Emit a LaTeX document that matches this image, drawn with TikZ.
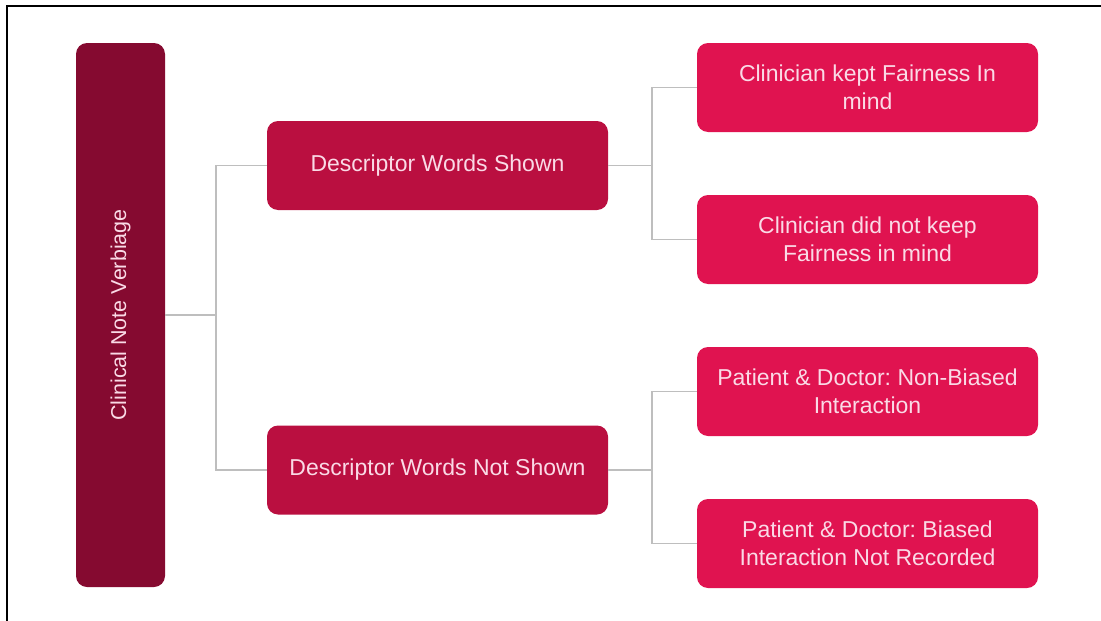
\documentclass[tikz,border=0pt]{standalone}
\usepackage{fontspec}
\setmainfont{Liberation Sans}
\frenchspacing
\definecolor{rootcol}{RGB}{133,10,48}
\definecolor{midcol}{RGB}{186,15,64}
\definecolor{leafcol}{RGB}{224,19,80}
\definecolor{txtcol}{RGB}{250,218,230}
\definecolor{linecol}{RGB}{190,190,190}
\begin{document}
\begin{tikzpicture}[x=1pt,y=-1pt,
  box/.style={rounded corners=11pt, inner sep=0pt, align=center, text=txtcol,
    font=\fontsize{23}{28}\selectfont},
  rootbox/.style={box, fill=rootcol, minimum width=544pt, minimum height=89pt, rotate=90,
    font=\fontsize{21.5}{26}\selectfont},
  midbox/.style={box, fill=midcol, minimum width=341pt, minimum height=89pt},
  leafbox/.style={box, fill=leafcol, minimum width=341pt, minimum height=89pt},
  conn/.style={draw=linecol, line width=1.2pt}]
\useasboundingbox (0,0) rectangle (1101,621);
\draw[line width=2pt] (7,621) -- (7,6) -- (1101,6);
\node[rootbox] (root) at (120.5,315) {Clinical Note Verbiage};
\node[midbox] (mid1) at (437.5,165.5) {Descriptor Words Shown};
\node[midbox] (mid2) at (437.5,470) {Descriptor Words Not Shown};
\node[leafbox] (leaf1) at (867.5,87.5) {Clinician kept Fairness In\\mind};
\node[leafbox] (leaf2) at (867.5,239.5) {Clinician did not keep\\Fairness in mind};
\node[leafbox] (leaf3) at (867.5,391.5) {Patient \& Doctor: Non-Biased\\Interaction};
\node[leafbox] (leaf4) at (867.5,543.5) {Patient \& Doctor: Biased\\Interaction Not Recorded};
\coordinate (j0) at (216,315);
\coordinate (j1) at (652,165.5);
\coordinate (j2) at (652,470);
\draw[conn] (root.south) -- (j0);
\draw[conn] (mid1.west) -| (j0) |- (mid2.west);
\draw[conn] (mid1.east) -- (j1);
\draw[conn] (leaf1.west) -| (j1) |- (leaf2.west);
\draw[conn] (mid2.east) -- (j2);
\draw[conn] (leaf3.west) -| (j2) |- (leaf4.west);
\end{tikzpicture}
\end{document}
